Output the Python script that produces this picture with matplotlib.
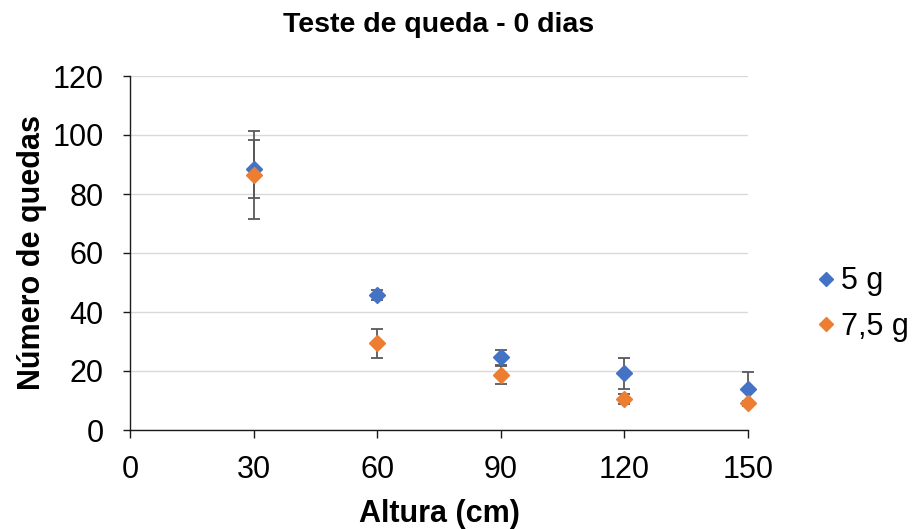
import matplotlib.pyplot as plt

plt.rcParams['font.family'] = ['Liberation Sans', 'DejaVu Sans']

alturas = [30, 60, 90, 120, 150]
quedas_5g = [88.5, 45.8, 24.6, 19.2, 13.9]
erro_5g = [9.7, 1.8, 2.5, 5.2, 5.8]
quedas_75g = [86.5, 29.4, 18.6, 10.5, 9.3]
erro_75g = [15.0, 4.9, 3.0, 1.7, 0.5]

fig = plt.figure(figsize=(9.15, 5.29), dpi=100)
ax = fig.add_axes([130 / 915, 1 - 430 / 529, 618 / 915, 354 / 529])

for y, err, cor, nome in [(quedas_5g, erro_5g, '#4472C4', '5 g'),
                          (quedas_75g, erro_75g, '#ED7D31', '7,5 g')]:
    eb = ax.errorbar(alturas, y, yerr=err, fmt='D', color=cor, ms=8,
                     ecolor='#595959', elinewidth=1.3, capsize=4, capthick=1.3,
                     label=nome, zorder=3)
    for art in eb.get_children():
        art.set_clip_on(False)

ax.set_xlim(0, 150)
ax.set_ylim(0, 120)
ax.set_xticks(range(0, 151, 30))
ax.set_yticks(range(0, 121, 20))
ax.grid(axis='y', color='#D9D9D9', lw=1.0)
ax.set_axisbelow(True)
for s in ['top', 'right']:
    ax.spines[s].set_visible(False)
for s in ['left', 'bottom']:
    ax.spines[s].set_color('#1a1a1a')
    ax.spines[s].set_linewidth(1.0)
ax.tick_params(axis='x', labelsize=22, length=6, color='#1a1a1a', width=1.0, pad=12)
ax.tick_params(axis='y', labelsize=22, length=5, color='#1a1a1a', width=1.0, pad=14)

ax.set_title('Teste de queda - 0 dias', fontsize=20.5, fontweight='bold', y=1.124, pad=0)
ax.set_xlabel('Altura (cm)', fontsize=22, fontweight='bold')
ax.set_ylabel('Número de quedas', fontsize=22, fontweight='bold')
ax.xaxis.set_label_coords(0.5, -0.196)
ax.yaxis.set_label_coords(-0.135, 0.5)

handles, labels = ax.get_legend_handles_labels()
handles = [h[0] for h in handles]
fig.legend(handles, labels, loc='center left', bbox_to_anchor=(817 / 915, 1 - 304 / 529),
           frameon=False, fontsize=22, markerscale=0.9, handlelength=0.6,
           handletextpad=0.2, labelspacing=0.5, borderpad=0, borderaxespad=0)

fig.savefig('out.png', dpi=100)
